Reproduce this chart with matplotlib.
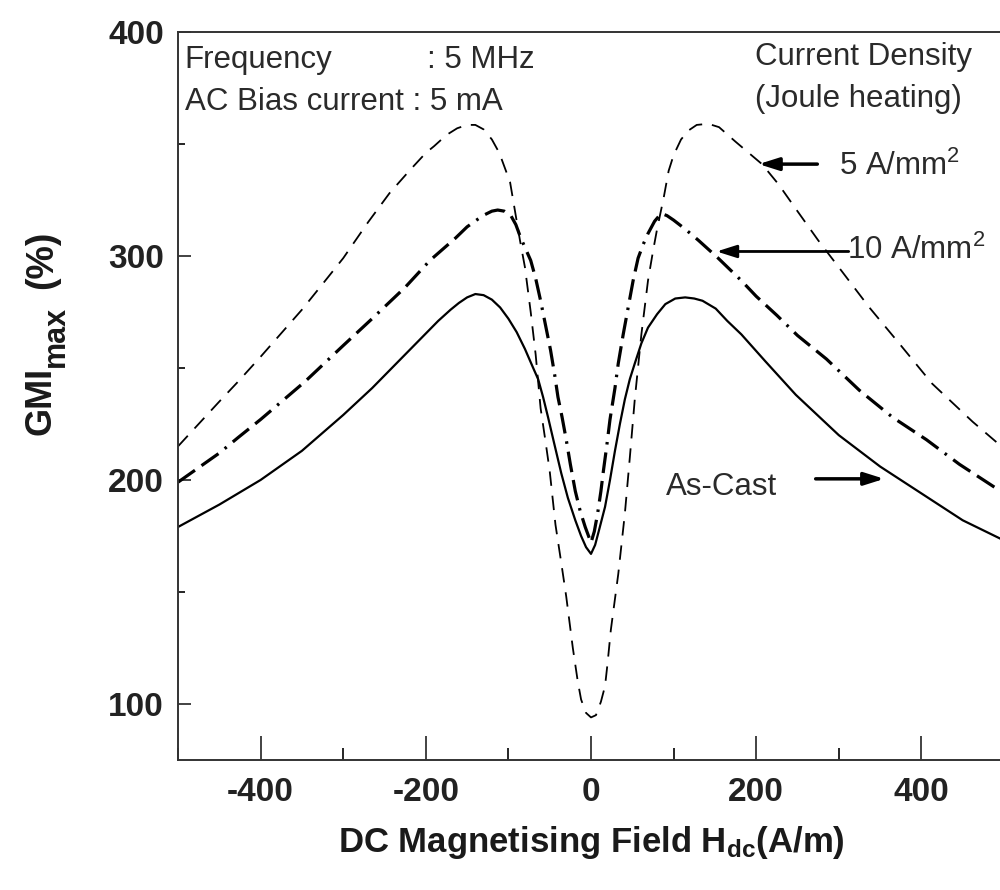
import matplotlib
matplotlib.use("Agg")
import matplotlib.pyplot as plt
from matplotlib.ticker import MultipleLocator

# ---- data ----
x_cast = [-500, -450, -400, -350, -300, -265, -225, -185, -170, -160, -150, -140, -130, -120,
          -110, -100, -90, -80, -70, -64, -58, -52, -45, -36, -28, -19, -12, -6, 0, 5, 10,
          17, 23, 29, 35, 41, 47, 53, 61, 69, 80, 90, 102, 114, 125, 135, 151, 165, 182, 211,
          248, 300, 350, 400, 450, 500]
y_cast = [179, 189, 200, 213, 229, 241, 256, 271, 276, 279, 281.5, 283, 282.5, 280.5,
          277, 272, 266, 258.5, 250, 245, 237, 228, 217, 203, 192, 182, 175, 170, 167, 171, 178,
          188, 200, 213, 225, 236, 245, 252, 261, 268, 274, 278.5, 281, 281.5, 281, 280, 276.5, 271, 265, 253,
          238, 220, 206, 194, 182, 173]

x_5 = [-500, -450, -427, -400, -350, -326, -300, -270, -244, -220, -200, -190, -175, -162,
       -150, -140, -130, -120, -111, -104, -98, -92, -86, -80, -73, -67, -61, -55, -50, -43,
       -36, -30, -22, -16, -12, -6, 0, 6, 12, 17, 20, 24, 33, 41, 47, 53, 61, 69, 75, 80, 88,
       94, 100, 109, 118, 128, 142, 155, 175, 207, 227, 248, 275, 304, 337, 373, 413, 462, 500]
y_5 = [215, 235, 244, 255, 276, 287, 299, 315, 328, 338, 346, 349, 354, 357,
       358.5, 358.5, 356.5, 352, 346, 339, 333, 320, 307, 295, 275, 256, 232, 217, 204, 180,
       163, 148, 125, 110, 102, 96, 94, 95, 101, 108, 118, 133, 158, 185, 210, 236, 265, 289, 302, 312, 326,
       338, 345, 352, 356, 358.5, 359, 357.5, 351, 341, 332, 321, 307, 293, 277, 261, 243, 226, 214]

x_10 = [-500, -450, -427, -400, -346, -300, -265, -225, -195, -164, -150, -131, -120, -113,
        -105, -97, -91, -85, -79, -73, -67, -61, -55, -49, -44, -40, -35, -30, -25, -19, -13,
        -7, -3, 0, 4, 8, 12, 15, 19, 23, 29, 33, 39, 45, 51, 57, 63, 69, 77, 85, 92, 100, 114,
        130, 154, 182, 200, 225, 250, 285, 325, 365, 406, 446, 500]
y_10 = [199, 212, 219, 227, 244, 260, 272, 286, 298, 308, 313, 318, 320, 320.5,
        320, 318, 314, 308, 303, 298, 290, 280, 269, 258, 247, 237, 228, 218, 207, 195, 186,
        179, 175, 172, 177, 185, 195, 204, 215, 227, 241, 252, 265, 277, 289, 299, 305, 310, 315.5, 319, 318, 316, 312,
        307, 299, 289, 282, 273.5, 264.5, 254, 240, 228, 218, 207, 194]

series_labels = ["As-Cast", "5 A/mm$^2$", "10 A/mm$^2$"]
x_ticks = [-400, -200, 0, 200, 400]
y_ticks = [100, 200, 300, 400]

# ---- style ----
plt.rcParams['font.family'] = ['Liberation Sans', 'DejaVu Sans']
plt.rcParams['mathtext.fontset'] = 'custom'
plt.rcParams['mathtext.rm'] = 'Liberation Sans'
plt.rcParams['mathtext.bf'] = 'Liberation Sans:bold'
plt.rcParams['mathtext.it'] = 'Liberation Sans:italic'
plt.rcParams['axes.unicode_minus'] = False

TXT = '#2a2a2a'
fig = plt.figure(figsize=(10, 8.9), dpi=100)
ax = fig.add_axes([0.178, 0.1461, 0.826, 0.818])

ax.plot(x_cast, y_cast, color='black', lw=1.6, ls='-')
ax.plot(x_5, y_5, color='black', lw=1.3, ls=(0, (8, 5.5)))
ax.plot(x_10, y_10, color='black', lw=2.3, ls=(0, (6.5, 2.5, 6.5, 2.5, 0.8, 2.5)))

ax.set_xlim(-500, 500)
ax.set_ylim(75, 400)
ax.set_xticks(x_ticks)
ax.set_yticks(y_ticks)
ax.xaxis.set_minor_locator(MultipleLocator(100))
ax.yaxis.set_minor_locator(MultipleLocator(50))
ax.tick_params(axis='x', which='major', direction='in', length=17, width=1.2, pad=12,
               labelsize=24, colors='#222222')
ax.tick_params(axis='x', which='minor', direction='in', length=9, width=1.2)
ax.tick_params(axis='y', which='major', direction='in', length=9.5, width=1.2, pad=10,
               labelsize=24, colors='#222222')
ax.tick_params(axis='y', which='minor', direction='in', length=5, width=1.2)
for lab in ax.get_xticklabels() + ax.get_yticklabels():
    lab.set_fontweight('bold')
for sp in ax.spines.values():
    sp.set_linewidth(1.4)
    sp.set_color('#333333')

ax.set_xlabel("DC Magnetising Field H$_{\\mathbf{dc}}$(A/m)", fontsize=25, fontweight='bold',
              labelpad=12, color='#1a1a1a')

# y label built from pieces so the subscript keeps the reference's large size
ylab_kw = dict(rotation=90, ha='center', va='center', fontweight='bold', color='#1a1a1a')
fig.text(0.041, 0.549, "GMI", fontsize=26, **ylab_kw)
fig.text(0.056, 0.622, "max", fontsize=22, **ylab_kw)
fig.text(0.042, 0.708, "(%)", fontsize=27, **ylab_kw)

fs = 22.5
ax.text(-492, 387.5, "Frequency", fontsize=fs, color=TXT, va='center', ha='left')
ax.text(-198, 387.5, ": 5 MHz", fontsize=fs, color=TXT, va='center', ha='left')
ax.text(-492, 368.8, "AC Bias current : 5 mA", fontsize=fs, color=TXT, va='center', ha='left')
ax.text(199, 388.8, "Current Density", fontsize=fs, color=TXT, va='center', ha='left')
ax.text(199, 370, "(Joule heating)", fontsize=fs, color=TXT, va='center', ha='left')

arrow = dict(arrowstyle='-|>,head_length=1.2,head_width=0.38', color='black', lw=2.5,
             shrinkA=0, shrinkB=0)
ax.annotate("", xy=(203, 341), xytext=(274, 341), arrowprops=arrow)
ax.text(300, 340, series_labels[1], fontsize=fs, color=TXT, va='center', ha='left')
ax.annotate("", xy=(152, 302), xytext=(312, 302),
            arrowprops=dict(arrowstyle='-|>,head_length=1.2,head_width=0.38', color='black',
                            lw=2.0, shrinkA=0, shrinkB=0))
ax.text(310, 302.5, series_labels[2], fontsize=fs, color=TXT, va='center', ha='left')
ax.annotate("", xy=(355, 200.5), xytext=(272, 200.5), arrowprops=arrow)
ax.text(91, 197, series_labels[0], fontsize=fs, color=TXT, va='center', ha='left')

fig.savefig("out.png", dpi=100, facecolor='white')
